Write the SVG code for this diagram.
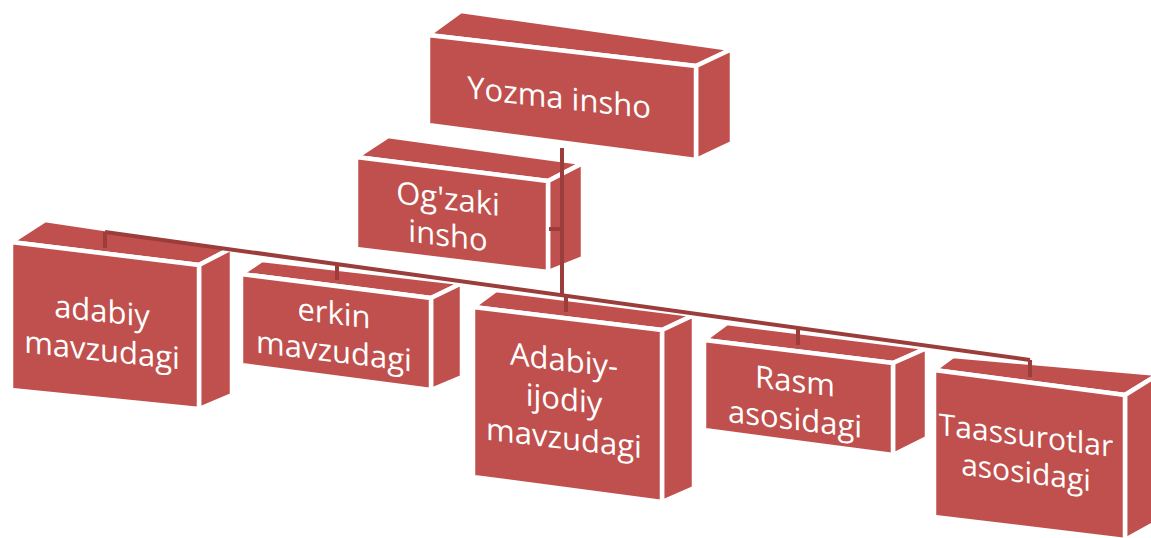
<svg xmlns="http://www.w3.org/2000/svg" width="1151" height="538" viewBox="0 0 1151 538">
<style>
.f{fill:#C0504D;stroke:#FFFFFF;stroke-width:4.5;stroke-linejoin:miter}
.t{fill:#FFFFFF;font-family:"Open Sans","Liberation Sans",sans-serif;font-size:31px;text-anchor:middle}
.s{font-size:30px}
.c{stroke:#9B3D3B;stroke-width:4;fill:none;stroke-linecap:butt}
</style>
<rect width="1151" height="538" fill="#FFFFFF"/>
<g id="node-yozma">
<polygon class="f" points="428,35 461,11 732,49 696,66"/>
<polygon class="f" points="696,66 732,49 732,143 696,160"/>
<polygon class="f" points="428,35 696,66 696,160 428,125"/>
<g transform="translate(559,108.5) skewY(6.3)"><text class="t" x="0" y="0">Yozma insho</text></g>
</g>
<g id="node-ogzaki">
<polygon class="f" points="356,157 388,136 583,163 548,181"/>
<polygon class="f" points="548,181 583,163 583,258 548,272"/>
<polygon class="f" points="356,157 548,181 548,272 356,249"/>
<g transform="translate(448,209.5) skewY(7)"><text class="t" x="0" y="0">Og'zaki</text><text class="t" x="0" y="37">insho</text></g>
</g>
<g id="node-adabiy">
<polygon class="f" points="11,242 45,220 232,248 199,265"/>
<polygon class="f" points="199,265 232,248 232,395 199,409"/>
<polygon class="f" points="11,242 199,265 199,409 11,390"/>
<g transform="translate(102,322) skewY(6.2)"><text class="t" x="0" y="0">adabiy</text><text class="t" x="0" y="39">mavzudagi</text></g>
</g>
<g id="node-erkin">
<polygon class="f" points="241,274 262,260 462,283 431,298"/>
<polygon class="f" points="431,298 462,283 462,377 431,390"/>
<polygon class="f" points="241,274 431,298 431,390 241,365"/>
<g transform="translate(334,324) skewY(7)"><text class="t" x="0" y="0">erkin</text><text class="t" x="0" y="38">mavzudagi</text></g>
</g>
<g id="node-adabiy-ijodiy">
<polygon class="f" points="473,307 496,290 694,315 662,330"/>
<polygon class="f" points="662,330 694,315 694,488 662,502"/>
<polygon class="f" points="473,307 662,330 662,502 473,477"/>
<g transform="translate(564,371) skewY(6.8)"><text class="t" x="0" y="0">Adabiy-</text><text class="t" x="0" y="39">ijodiy</text><text class="t" x="0" y="78">mavzudagi</text></g>
</g>
<g id="node-rasm">
<polygon class="f" points="704,340 727,323 927,348 893,363"/>
<polygon class="f" points="893,363 927,348 927,438 893,455"/>
<polygon class="f" points="704,340 893,363 893,455 704,430"/>
<g transform="translate(795,392) skewY(6.8)"><text class="t" x="0" y="0">Rasm</text><text class="t" x="0" y="38">asosidagi</text></g>
</g>
<g id="node-taassurotlar">
<polygon class="f" points="934,370 953,356 1159,374 1125,395"/>
<polygon class="f" points="1125,395 1159,374 1159,521 1125,540"/>
<polygon class="f" points="934,370 1125,395 1125,540 934,517"/>
<g transform="translate(1026,446) skewY(7.3)"><text class="t s" x="0" y="0">Taassurotlar</text><text class="t s" x="0" y="37">asosidagi</text></g>
</g>
<g id="connectors">
<line class="c" x1="562" y1="148" x2="562" y2="296"/>
<line class="c" x1="549" y1="229" x2="562" y2="229"/>
<line class="c" x1="105" y1="232" x2="1030" y2="360"/>
<line class="c" x1="105" y1="232" x2="105" y2="248"/>
<line class="c" x1="337" y1="264" x2="337" y2="280"/>
<line class="c" x1="566" y1="295" x2="566" y2="312"/>
<line class="c" x1="798" y1="328" x2="798" y2="345"/>
<line class="c" x1="1030" y1="360" x2="1030" y2="377"/>
</g>
</svg>
